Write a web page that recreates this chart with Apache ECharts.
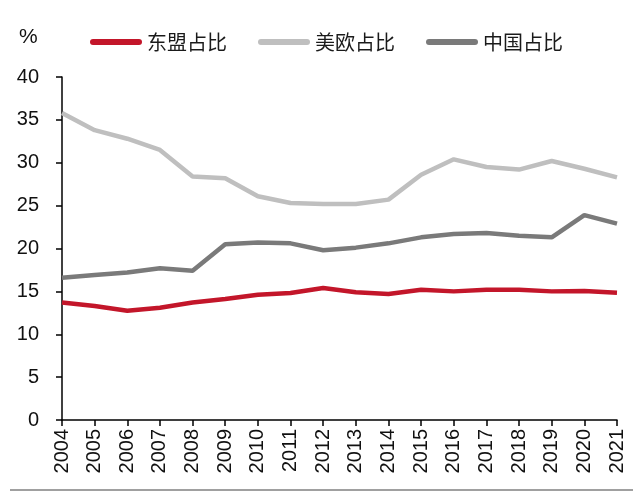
<!DOCTYPE html>
<html>
<head>
<meta charset="utf-8">
<script src="https://cdn.jsdelivr.net/npm/echarts@6/dist/echarts.min.js"></script>
<style>html,body{margin:0;padding:0;background:#fff;}#c{width:640px;height:492px;}</style>
</head>
<body>
<div id="c"></div>
<script>
const years = ['2004','2005','2006','2007','2008','2009','2010','2011','2012','2013','2014','2015','2016','2017','2018','2019','2020','2021'];
const asean = [13.7,13.3,12.75,13.1,13.7,14.1,14.6,14.8,15.4,14.9,14.7,15.2,15.0,15.2,15.2,15.0,15.05,14.85];
const usEu = [35.8,33.8,32.8,31.5,28.4,28.2,26.1,25.3,25.2,25.2,25.7,28.6,30.4,29.5,29.2,30.2,29.3,28.3];
const china = [16.6,16.9,17.2,17.7,17.4,20.5,20.7,20.6,19.8,20.1,20.6,21.3,21.7,21.8,21.5,21.3,23.9,22.9];
const names = ['东盟占比','美欧占比','中国占比'];
const colors = ['#c3162a','#bfbfbf','#7a7a7a'];

const chart = echarts.init(document.getElementById('c'));
const icon = 'path://M3,0 L49,0 A3,3 0 0 1 49,6 L3,6 A3,3 0 0 1 3,0 Z';
chart.setOption({
  animation: false,
  textStyle: {fontFamily: 'Liberation Sans, Arial, sans-serif'},
  title: {text: '%', left: 19, top: 27, padding: 0, textStyle: {fontSize: 21, fontWeight: 'normal', color: '#111', fontFamily: 'Liberation Sans, Arial'}},
  legend: {
    left: 85, top: 27,
    itemWidth: 52, itemHeight: 6, itemGap: 31,
    icon: icon,
    textStyle: {fontFamily: 'Noto Sans CJK SC', fontSize: 20, color: '#1a1a1a', padding: [0,0,0,0]},
    data: names.map((n,i)=>({name:n, icon: icon, itemStyle:{color:colors[i]}}))
  },
  graphic: [
    {type:'line', shape:{x1:10,y1:490,x2:633,y2:490}, style:{stroke:'#808080', lineWidth:1.5}}
  ],
  grid: {left: 62, right: 23, top: 77, bottom: 72},
  xAxis: {
    type: 'category', data: years, boundaryGap: false,
    axisLine: {lineStyle: {color: '#000', width: 1.5}},
    axisTick: {show: true, length: 6, alignWithLabel: true, lineStyle:{color:'#000', width:1.5}},
    axisLabel: {rotate: 90, fontSize: 20, color: '#111', margin: 9, interval: 0}
  },
  yAxis: {
    type: 'value', min: 0, max: 40, interval: 5,
    splitLine: {show: false},
    axisLine: {show: true, lineStyle: {color: '#000', width: 1.5}},
    axisTick: {show: true, length: 6, lineStyle:{color:'#000', width:1.5}},
    axisLabel: {fontSize: 20, color: '#111', margin: 23}
  },
  series: [
    {name: names[0], type: 'line', data: asean, showSymbol: false, lineStyle:{color:colors[0], width:4.5}, itemStyle:{color:colors[0]}, z: 3},
    {name: names[1], type: 'line', data: usEu, showSymbol: false, lineStyle:{color:colors[1], width:4.5}, itemStyle:{color:colors[1]}},
    {name: names[2], type: 'line', data: china, showSymbol: false, lineStyle:{color:colors[2], width:4.5}, itemStyle:{color:colors[2]}}
  ]
});
</script>
</body>
</html>
